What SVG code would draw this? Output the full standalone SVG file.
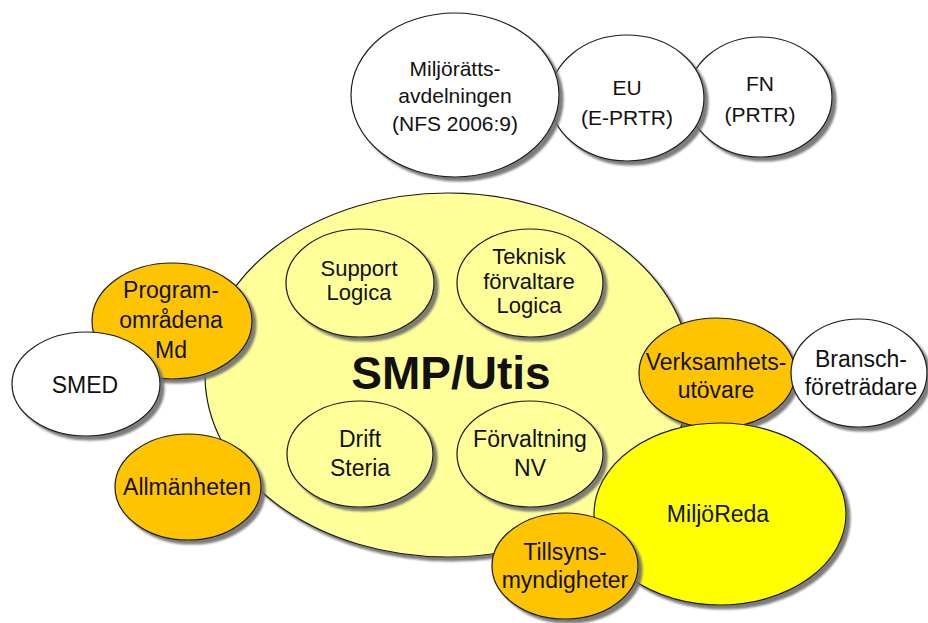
<svg xmlns="http://www.w3.org/2000/svg" width="928" height="623" viewBox="0 0 928 623">
  <defs>
    <!-- soft grey drop shadow to the lower right -->
    <filter id="shadow" x="-10%" y="-10%" width="125%" height="125%">
      <feGaussianBlur in="SourceAlpha" stdDeviation="1.2" result="b"/>
      <feOffset in="b" dx="4" dy="4" result="o"/>
      <feFlood flood-color="#6e6e6e" flood-opacity="0.9"/>
      <feComposite in2="o" operator="in" result="s"/>
      <feMerge>
        <feMergeNode in="s"/>
        <feMergeNode in="SourceGraphic"/>
      </feMerge>
    </filter>
  </defs>
  <style>
    ellipse { stroke: #1a1a1a; stroke-width: 1.2; filter: url(#shadow); }
    .white { fill: #ffffff; }
    .pale { fill: #ffff99; }
    .gold { fill: #ffc400; }
    .yellow { fill: #ffff00; }
    text { font-family: "Liberation Sans", Arial, sans-serif; fill: #111111; text-anchor: middle; }
    .t21 { font-size: 21px; }
    .t22 { font-size: 22px; }
    .t23 { font-size: 23px; }
    .big { font-size: 46px; font-weight: bold; }
  </style>

  <rect width="928" height="623" fill="#ffffff"/>

  <!-- regulators, top row -->
  <g id="fn">
    <ellipse class="white" cx="760" cy="97" rx="72" ry="60"/>
    <text class="t21" x="760" y="91">FN</text>
    <text class="t21" x="760" y="122">(PRTR)</text>
  </g>
  <g id="eu">
    <ellipse class="white" cx="627" cy="98" rx="77" ry="63"/>
    <text class="t21" x="627" y="95">EU</text>
    <text class="t21" x="627" y="125">(E-PRTR)</text>
  </g>
  <g id="miljoratts">
    <ellipse class="white" cx="455" cy="95" rx="104" ry="82"/>
    <text class="t21" x="455" y="76">Miljörätts-</text>
    <text class="t21" x="455" y="103">avdelningen</text>
    <text class="t21" x="455" y="131">(NFS 2006:9)</text>
  </g>

  <!-- central system -->
  <g id="smp-utis">
    <ellipse class="pale" cx="448" cy="375" rx="243" ry="182"/>
    <text class="big" x="451" y="389">SMP/Utis</text>
  </g>
  <g id="support-logica">
    <ellipse class="pale" cx="360" cy="283" rx="74" ry="54"/>
    <text class="t22" x="359" y="276">Support</text>
    <text class="t22" x="359" y="300">Logica</text>
  </g>
  <g id="teknisk-forvaltare">
    <ellipse class="pale" cx="530" cy="283" rx="73" ry="54"/>
    <text class="t22" x="529" y="264">Teknisk</text>
    <text class="t22" x="529" y="289">förvaltare</text>
    <text class="t22" x="529" y="313">Logica</text>
  </g>
  <g id="drift-steria">
    <ellipse class="pale" cx="360" cy="454" rx="73" ry="53"/>
    <text class="t23" x="360" y="447">Drift</text>
    <text class="t23" x="360" y="476">Steria</text>
  </g>
  <g id="forvaltning-nv">
    <ellipse class="pale" cx="530" cy="454" rx="73" ry="53"/>
    <text class="t23" x="530" y="447">Förvaltning</text>
    <text class="t23" x="530" y="476">NV</text>
  </g>

  <!-- left-hand actors -->
  <g id="programomradena">
    <ellipse class="gold" cx="172" cy="321" rx="80" ry="58"/>
    <text class="t23" x="171" y="298">Program-</text>
    <text class="t23" x="171" y="328">områdena</text>
    <text class="t23" x="171" y="358">Md</text>
  </g>
  <g id="smed">
    <ellipse class="white" cx="86" cy="384" rx="74" ry="52"/>
    <text class="t23" x="85" y="393">SMED</text>
  </g>
  <g id="allmanheten">
    <ellipse class="gold" cx="188" cy="487" rx="73" ry="53"/>
    <text class="t23" x="187" y="495">Allmänheten</text>
  </g>

  <!-- right-hand actors -->
  <g id="verksamhetsutovare">
    <ellipse class="gold" cx="717" cy="373" rx="78" ry="55"/>
    <text class="t23" x="716" y="370">Verksamhets-</text>
    <text class="t23" x="716" y="398">utövare</text>
  </g>
  <g id="branschforetradare">
    <ellipse class="white" cx="859" cy="373" rx="68" ry="54"/>
    <text class="t23" x="861" y="367">Bransch-</text>
    <text class="t23" x="861" y="395">företrädare</text>
  </g>
  <g id="miljoreda">
    <ellipse class="yellow" cx="720" cy="514" rx="126" ry="91"/>
    <text class="t23" x="718" y="522">MiljöReda</text>
  </g>
  <g id="tillsynsmyndigheter">
    <ellipse class="gold" cx="565" cy="566" rx="73" ry="53"/>
    <text class="t23" x="565" y="560">Tillsyns-</text>
    <text class="t23" x="565" y="588">myndigheter</text>
  </g>

  <!-- no connectors: relations are shown by overlap -->
  <g id="connectors"/>
</svg>
